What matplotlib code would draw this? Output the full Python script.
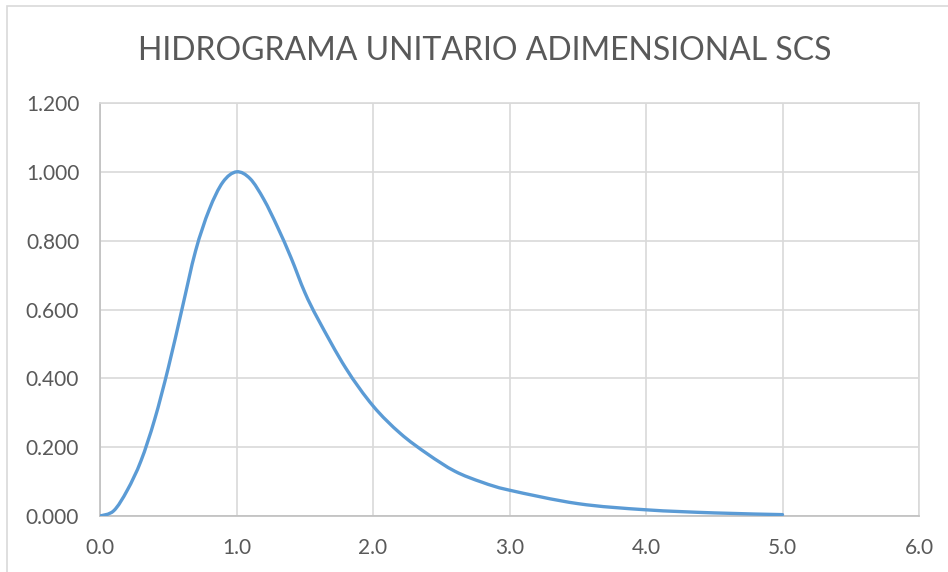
import matplotlib
matplotlib.use("Agg")
import matplotlib.pyplot as plt
from matplotlib.path import Path
from matplotlib.patches import PathPatch, Rectangle
import numpy as np

# SCS dimensionless unit hydrograph (t/tp, q/qp)
t_ratio = [0.0, 0.1, 0.2, 0.3, 0.4, 0.5, 0.6, 0.7, 0.8, 0.9, 1.0, 1.1, 1.2, 1.3, 1.4,
           1.5, 1.6, 1.8, 2.0, 2.2, 2.4, 2.6, 2.8, 3.0, 3.5, 4.0, 4.5, 5.0]
q_ratio = [0.000, 0.015, 0.075, 0.160, 0.280, 0.430, 0.600, 0.770, 0.890, 0.970, 1.000,
           0.980, 0.920, 0.840, 0.750, 0.650, 0.570, 0.430, 0.320, 0.240, 0.180, 0.130,
           0.098, 0.075, 0.036, 0.018, 0.009, 0.004]
x_ticks = [0, 1, 2, 3, 4, 5, 6]
y_ticks = [0.0, 0.2, 0.4, 0.6, 0.8, 1.0, 1.2]
title = "HIDROGRAMA UNITARIO ADIMENSIONAL SCS"

plt.rcParams['font.family'] = ['Lato', 'DejaVu Sans']
fig = plt.figure(figsize=(9.48, 5.72), dpi=100)
fig.patches.append(Rectangle((7/948, -0.1), 1.2, (572-6)/572 + 0.1, transform=fig.transFigure,
                             fill=False, edgecolor='#d9d9d9', linewidth=1.2))
ax = fig.add_axes([100/948, 1-516/572, 819/948, 413/572])

# smoothed line (Catmull-Rom as cubic Bezier, like Excel's smoothed line)
P = np.column_stack([t_ratio, q_ratio])
verts = [tuple(P[0])]
codes = [Path.MOVETO]
n = len(P)
for i in range(n - 1):
    p0 = P[i - 1] if i > 0 else P[i]
    p1 = P[i]
    p2 = P[i + 1]
    p3 = P[i + 2] if i + 2 < n else P[i + 1]
    c1 = p1 + (p2 - p0) / 6.0
    c2 = p2 - (p3 - p1) / 6.0
    verts += [tuple(c1), tuple(c2), tuple(p2)]
    codes += [Path.CURVE4] * 3
ax.add_patch(PathPatch(Path(verts, codes), facecolor='none', edgecolor='#5B9BD5',
                       linewidth=2.4, capstyle='round', joinstyle='round', zorder=3))

ax.set_xlim(0, 6)
ax.set_ylim(0, 1.2)
ax.set_xticks(x_ticks)
ax.set_xticklabels([f"{v:.1f}" for v in x_ticks])
ax.set_yticks(y_ticks)
ax.set_yticklabels([f"{v:.3f}" for v in y_ticks])
ax.grid(True, color='#d9d9d9', linewidth=1.2)
ax.set_axisbelow(True)
for s in ['top', 'right']:
    ax.spines[s].set_color('#d9d9d9')
    ax.spines[s].set_linewidth(1.2)
for s in ['left', 'bottom']:
    ax.spines[s].set_color('#bfbfbf')
    ax.spines[s].set_linewidth(1.2)
ax.tick_params(length=0, labelsize=15, labelcolor='#595959')
ax.tick_params(axis='y', pad=15)
ax.tick_params(axis='x', pad=16)
fig.text(485/948, 1 - 51/572, title, ha='center', va='center', fontsize=23, color='#595959')

fig.savefig("out.png", dpi=100)
